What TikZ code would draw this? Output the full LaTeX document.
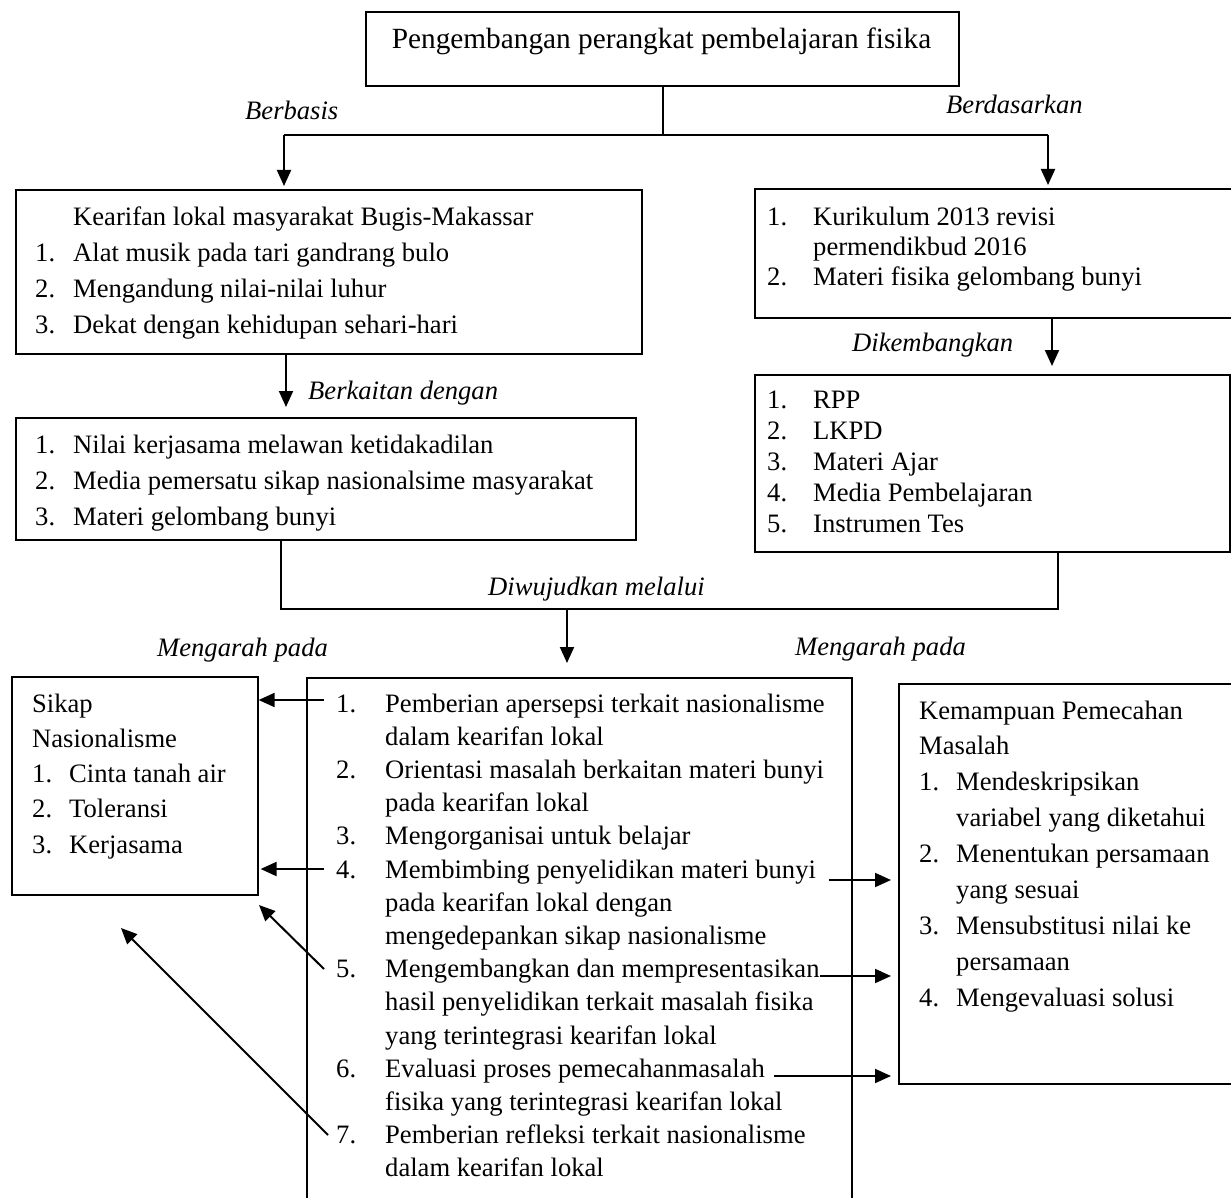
\documentclass[tikz,border=0pt]{standalone}
\usepackage{fontspec}
\setmainfont{Liberation Serif}
\usepackage{array}
\usetikzlibrary{arrows.meta}
\newcommand\mylist[3]{\fontsize{26.6}{#2}\selectfont\begin{tabular}[t]{@{}p{#1}@{}l@{}}#3\end{tabular}}
\newcommand\whole[1]{\multicolumn{2}{@{}l@{}}{#1}}
\begin{document}
\begin{tikzpicture}[x=1pt,y=-1pt,
  box/.style={draw, line width=1.6pt, anchor=north west, inner sep=0pt},
  txt/.style={anchor=base west, inner sep=0pt},
  lbl/.style={anchor=base west, inner sep=0pt, font=\fontsize{26.6}{33}\selectfont\itshape},
  conn/.style={line width=1.2pt},
  arr/.style={line width=2pt, -{Triangle[length=16pt,width=14pt]}},
]
\useasboundingbox (0,0) rectangle (1231,1198);
\clip (0,0) rectangle (1231,1198);

% boxes
\node[box, minimum width=593pt, minimum height=74pt] (top) at (365,11) {};
\node[box, minimum width=626pt, minimum height=164pt] (kb) at (15,189) {};
\node[box, minimum width=490pt, minimum height=129pt] (kur) at (754,188) {};
\node[box, minimum width=475pt, minimum height=177pt] (rpp) at (754,374) {};
\node[box, minimum width=620pt, minimum height=122pt] (nil) at (15,417) {};
\node[box, minimum width=246pt, minimum height=218pt] (sik) at (11,676) {};
\node[box, minimum width=545pt, minimum height=540pt] (mid) at (306,677) {};
\node[box, minimum width=350pt, minimum height=400pt] (kem) at (898,683) {};

% texts
\node[anchor=base, inner sep=0pt, font=\fontsize{29.3}{35}\selectfont] (toptxt) at (661.5,49) {Pengembangan perangkat pembelajaran fisika};
\node[txt] (kt) at (35,226) {\mylist{38pt}{35.7pt}{%
 & Kearifan lokal masyarakat Bugis-Makassar\\
1. & Alat musik pada tari gandrang bulo\\
2. & Mengandung nilai-nilai luhur\\
3. & Dekat dengan kehidupan sehari-hari}};
\node[txt] (kurt) at (767,226) {\mylist{46pt}{30pt}{%
1. & Kurikulum 2013 revisi\\
 & permendikbud 2016\\
2. & Materi fisika gelombang bunyi}};
\node[txt] (rppt) at (767,408) {\mylist{46pt}{31pt}{%
1. & RPP\\
2. & LKPD\\
3. & Materi Ajar\\
4. & Media Pembelajaran\\
5. & Instrumen Tes}};
\node[txt] (nilt) at (35,453) {\mylist{38pt}{36pt}{%
1. & Nilai kerjasama melawan ketidakadilan\\
2. & Media pemersatu sikap nasionalsime masyarakat\\
3. & Materi gelombang bunyi}};
\node[txt] (sikt) at (32,712) {\mylist{37pt}{35.3pt}{%
\whole{Sikap}\\
\whole{Nasionalisme}\\
1. & Cinta tanah air\\
2. & Toleransi\\
3. & Kerjasama}};
\node[txt] (midt) at (336,712) {\mylist{49pt}{33.2pt}{%
1. & Pemberian apersepsi terkait nasionalisme\\
 & dalam kearifan lokal\\
2. & Orientasi masalah berkaitan materi bunyi\\
 & pada kearifan lokal\\
3. & Mengorganisai untuk belajar\\
4. & Membimbing penyelidikan materi bunyi\\
 & pada kearifan lokal dengan\\
 & mengedepankan sikap nasionalisme\\
5. & Mengembangkan dan mempresentasikan\\
 & hasil penyelidikan terkait masalah fisika\\
 & yang terintegrasi kearifan lokal\\
6. & Evaluasi proses pemecahanmasalah\\
 & fisika yang terintegrasi kearifan lokal\\
7. & Pemberian refleksi terkait nasionalisme\\
 & dalam kearifan lokal}};
\node[txt] (kemt) at (919,719) {\mylist{37pt}{35.9pt}{%
\whole{Kemampuan Pemecahan}\\
\whole{Masalah}\\
1. & Mendeskripsikan\\
 & variabel yang diketahui\\
2. & Menentukan persamaan\\
 & yang sesuai\\
3. & Mensubstitusi nilai ke\\
 & persamaan\\
4. & Mengevaluasi solusi}};

% labels
\node[lbl] (l1) at (245,120) {Berbasis};
\node[lbl] (l2) at (946,114) {Berdasarkan};
\node[lbl] (l3) at (852,351) {Dikembangkan};
\node[lbl] (l4) at (308,399) {Berkaitan dengan};
\node[lbl] (l5) at (488,595) {Diwujudkan melalui};
\node[lbl] (l6) at (157,656) {Mengarah pada};
\node[lbl] (l7) at (795,655) {Mengarah pada};

% connectors
\coordinate (j) at (663,135);
\coordinate (jl) at (284,135);
\coordinate (jr) at (1048,135);
\draw[conn] (j |- top.south) -- (j);
\draw[conn] (jl) -- (jr);
\draw[arr, shorten >=3pt] (jl) -- (jl |- kb.north);
\draw[arr, shorten >=3pt] (jr) -- (jr |- kur.north);
\coordinate (d1) at (1052,0);
\draw[arr, shorten >=8pt] (d1 |- kur.south) -- (d1 |- rpp.north);
\coordinate (b1) at (286,0);
\draw[arr, shorten >=10pt] (b1 |- kb.south) -- (b1 |- nil.north);
\coordinate (wl) at (281,609);
\coordinate (wr) at (1058,609);
\coordinate (wm) at (567,609);
\draw[conn] (wl |- nil.south) -- (wl) -- (wr) -- (wr |- rpp.south);
\draw[arr, shorten >=14pt] (wm) -- (wm |- mid.north);

% arrows to Sikap
\coordinate (s1) at (324,700);
\coordinate (s4) at (324,869);
\coordinate (s5) at (324,969);
\coordinate (t5) at (259,905);
\coordinate (s7) at (328,1135);
\coordinate (t7) at (121,928);
\draw[arr] (s1) -- (s1 -| sik.east);
\draw[arr, shorten >=2pt] (s4) -- (s4 -| sik.east);
\draw[arr] (s5) -- (t5);
\draw[arr] (s7) -- (t7);

% arrows to Kemampuan
\coordinate (k4) at (829,880);
\coordinate (k5) at (820,976);
\coordinate (k6) at (774,1076);
\draw[arr, shorten >=7pt] (k4) -- (k4 -| kem.west);
\draw[arr, shorten >=7pt] (k5) -- (k5 -| kem.west);
\draw[arr, shorten >=7pt] (k6) -- (k6 -| kem.west);
\end{tikzpicture}
\end{document}
